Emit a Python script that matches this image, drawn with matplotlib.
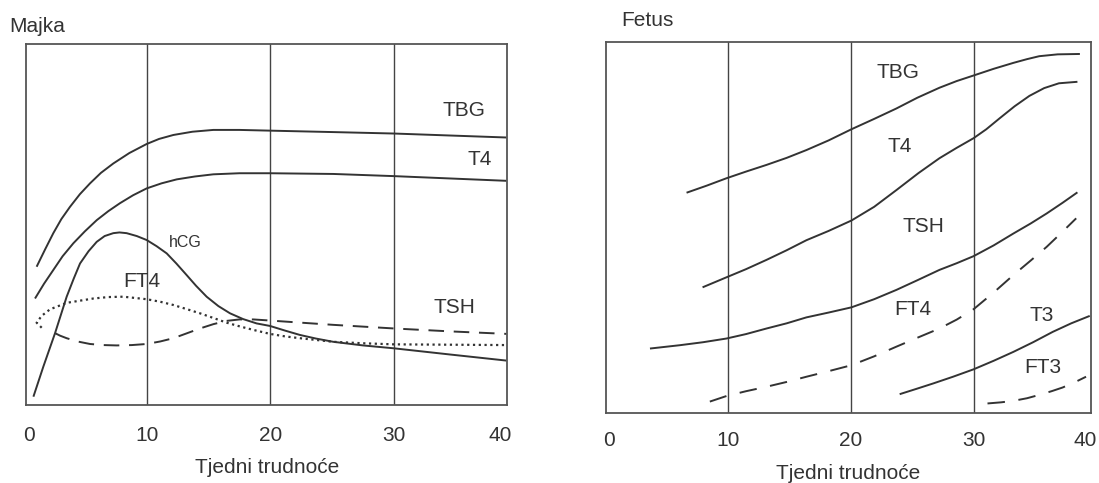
import numpy as np
import matplotlib.pyplot as plt

plt.rcParams['font.family'] = ['Liberation Sans', 'DejaVu Sans']

INK = '#333333'

# --- Majka (mother): week of pregnancy vs relative level (0-100 of the panel)
m_tbg_w = [1.1, 1.8, 2.45, 3.1, 3.8, 4.6, 5.42, 6.3, 7.3, 8.6, 10.0, 11.0, 12.16, 13.7,
           15.39, 17.5, 19.97, 25.1, 30.0, 39.1]
m_tbg_v = [38.3, 43.2, 47.6, 51.5, 54.9, 58.4, 61.4, 64.3, 66.9, 69.8, 72.3, 73.7, 74.8, 75.7,
           76.2, 76.2, 76.0, 75.6, 75.2, 74.1]

m_t4_w = [0.97, 1.7, 2.45, 3.2, 4.07, 5.0, 5.96, 6.9, 7.84, 8.9, 10.0, 11.2, 12.43, 13.9,
          15.39, 17.5, 19.97, 25.1, 30.0, 39.1]
m_t4_v = [29.5, 33.6, 37.4, 41.2, 44.8, 48.1, 51.2, 53.7, 55.9, 58.1, 60.0, 61.4, 62.5, 63.3,
          63.9, 64.2, 64.2, 64.0, 63.4, 62.1]

m_hcg_w = [0.84, 1.64, 2.59, 3.53, 4.1, 4.61, 5.3, 5.96, 6.6, 7.3, 7.8, 8.38, 9.2, 10.0,
           10.8, 11.62, 12.4, 13.23, 14.0, 14.85, 15.8, 16.74, 17.8, 18.89, 19.97, 21.2,
           22.4, 23.7, 25.1, 27.5, 30.0, 34.5, 39.1]
m_hcg_v = [2.3, 10.6, 19.9, 30.0, 35.0, 39.2, 42.6, 45.2, 46.8, 47.6, 47.8, 47.6, 46.8, 45.7,
           44.0, 42.0, 39.2, 36.0, 33.0, 30.0, 27.4, 25.4, 23.8, 22.6, 21.9, 20.6,
           19.4, 18.4, 17.5, 16.5, 15.7, 14.0, 12.3]

m_ft4_w = [1.51, 1.1, 1.51, 2.18, 3.53, 5.69, 6.9, 8.11, 10.0, 11.1, 12.16, 13.2, 14.31, 15.4,
           16.47, 17.5, 18.63, 19.97, 21.2, 22.4, 25.1, 27.5, 30.0, 34.5, 39.1]
m_ft4_v = [21.4, 22.8, 24.7, 26.5, 28.3, 29.5, 29.9, 30.0, 29.3, 28.6, 27.7, 26.6, 25.4, 24.1,
           22.8, 21.8, 20.8, 19.7, 19.0, 18.5, 17.5, 17.1, 16.8, 16.7, 16.6]

m_tsh_w = [2.59, 3.0, 3.53, 4.4, 5.42, 6.5, 7.57, 8.8, 10.0, 11.1, 12.16, 13.2, 14.31, 15.4,
           16.47, 17.5, 18.63, 19.97, 22.5, 25.1, 30.0, 34.5, 39.1]
m_tsh_v = [19.9, 19.2, 18.5, 17.6, 16.9, 16.6, 16.5, 16.6, 16.9, 17.6, 18.5, 19.8, 21.2, 22.4,
           23.3, 23.7, 23.7, 23.4, 22.8, 22.2, 21.2, 20.4, 19.7]

# --- Fetus
f_tbg_w = [6.67, 8.3, 9.91, 11.5, 13.16, 14.8, 16.4, 18.2, 20.05, 21.9, 23.7, 25.4, 27.2,
           28.6, 29.97, 31.6, 33.2, 34.3, 35.3, 36.8, 38.6]
f_tbg_v = [59.3, 61.2, 63.2, 65.0, 66.8, 68.7, 70.8, 73.4, 76.4, 79.2, 82.0, 84.9, 87.6,
           89.4, 90.9, 92.7, 94.3, 95.3, 96.1, 96.6, 96.7]

f_t4_w = [7.97, 9.91, 11.5, 13.16, 14.8, 16.4, 18.2, 20.05, 21.9, 23.7, 25.5, 27.2, 28.6,
          29.97, 31.0, 32.1, 33.3, 34.5, 35.7, 36.9, 38.4]
f_t4_v = [33.8, 36.5, 38.7, 41.2, 43.8, 46.5, 49.0, 51.8, 55.5, 60.0, 64.6, 68.6, 71.4,
          74.0, 76.4, 79.4, 82.6, 85.4, 87.5, 88.8, 89.2]

f_tsh_w = [3.7, 6.13, 8.0, 9.91, 11.5, 13.16, 14.8, 16.4, 18.2, 20.05, 21.9, 23.7, 25.4,
           27.2, 28.6, 29.97, 31.6, 33.2, 34.6, 35.9, 37.2, 38.4]
f_tsh_v = [17.3, 18.2, 19.0, 20.0, 21.2, 22.7, 24.1, 25.7, 27.0, 28.4, 30.6, 33.1, 35.7,
           38.5, 40.3, 42.2, 45.1, 48.3, 51.0, 53.7, 56.6, 59.4]

f_ft4_w = [8.56, 9.91, 11.5, 13.16, 14.8, 16.4, 18.2, 20.05, 21.9, 23.7, 25.4, 27.2, 28.6,
           29.97, 31.6, 33.2, 34.6, 35.9, 37.1, 38.3]
f_ft4_v = [3.0, 4.5, 5.8, 7.0, 8.3, 9.7, 11.2, 12.8, 15.2, 17.8, 20.2, 22.7, 25.1,
           27.9, 32.4, 37.1, 41.0, 44.7, 48.5, 52.4]

f_t3_w = [23.97, 25.3, 26.7, 28.3, 29.97, 31.6, 33.2, 34.8, 36.4, 37.9, 39.4]
f_t3_v = [5.0, 6.4, 7.9, 9.7, 11.7, 14.0, 16.4, 19.0, 21.8, 24.1, 26.1]

f_ft3_w = [31.1, 32.2, 33.2, 34.3, 35.3, 36.3, 37.2, 38.3, 39.1]
f_ft3_v = [2.5, 2.8, 3.2, 3.9, 4.8, 5.8, 6.8, 8.4, 9.7]

week_labels = ['0', '10', '20', '30', '40']
xlabel = 'Tjedni trudnoće'
FS = 15


def setup(ax, xlim, x0, x40, pad, label_y):
    ax.set_xlim(*xlim)
    ax.set_ylim(0, 100)
    ax.set_yticks([])
    ax.set_xticks([x0, 10, 20, 30, x40], week_labels)
    ax.tick_params(axis='x', length=0, pad=pad, labelsize=FS, labelcolor=INK)
    for w in (10, 20, 30):
        ax.axvline(w, color='#444444', lw=1.0, zorder=1)
    for s in ax.spines.values():
        s.set_color('#555555')
        s.set_linewidth(1.3)
    ax.set_xlabel(xlabel, fontsize=FS, color=INK)
    ax.xaxis.label.set_verticalalignment('center')
    ax.xaxis.set_label_coords(0.5, label_y)


fig = plt.figure(figsize=(10.99, 4.83), dpi=100)
ax1 = fig.add_axes([0.0241, 0.1615, 0.4372, 0.7474])
ax2 = fig.add_axes([0.5514, 0.1455, 0.4413, 0.7681])

solid = dict(color=INK, lw=1.4, solid_capstyle='butt')
dashed = dict(color=INK, lw=1.4, linestyle=(0, (8, 5)))
dotted = dict(color=INK, lw=1.6, linestyle=(0, (1, 1.6)))
dashed_f = dict(color=INK, lw=1.4, linestyle=(0, (9, 7)))

# Majka
ax1.plot(m_tbg_w, m_tbg_v, **solid)
ax1.plot(m_t4_w, m_t4_v, **solid)
ax1.plot(m_hcg_w, m_hcg_v, **solid)
ax1.plot(m_ft4_w, m_ft4_v, **dotted)
ax1.plot(m_tsh_w, m_tsh_v, **dashed)
ax1.text(35.7, 81.7, 'TBG', fontsize=FS, color=INK, ha='center', va='center')
ax1.text(36.96, 67.9, 'T4', fontsize=FS, color=INK, ha='center', va='center')
ax1.text(13.1, 44.9, 'hCG', fontsize=11.5, color=INK, ha='center', va='center')
ax1.text(9.62, 34.1, 'FT4', fontsize=FS, color=INK, ha='center', va='center')
ax1.text(34.9, 26.9, 'TSH', fontsize=FS, color=INK, ha='center', va='center')
setup(ax1, (0.28, 39.14), 0.49, 38.6, 15, -0.172)

# Fetus
ax2.plot(f_tbg_w, f_tbg_v, **solid)
ax2.plot(f_t4_w, f_t4_v, **solid)
ax2.plot(f_tsh_w, f_tsh_v, **solid)
ax2.plot(f_ft4_w, f_ft4_v, **dashed_f)
ax2.plot(f_t3_w, f_t3_v, **solid)
ax2.plot(f_ft3_w, f_ft3_v, **dashed_f)
ax2.text(23.8, 91.6, 'TBG', fontsize=FS, color=INK, ha='center', va='center')
ax2.text(23.97, 71.7, 'T4', fontsize=FS, color=INK, ha='center', va='center')
ax2.text(25.9, 50.3, 'TSH', fontsize=FS, color=INK, ha='center', va='center')
ax2.text(25.05, 27.7, 'FT4', fontsize=FS, color=INK, ha='center', va='center')
ax2.text(35.5, 26.1, 'T3', fontsize=FS, color=INK, ha='center', va='center')
ax2.text(35.6, 12.2, 'FT3', fontsize=FS, color=INK, ha='center', va='center')
setup(ax2, (0.13, 39.5), 0.37, 39.0, 13, -0.165)

fig.text(0.034, 0.946, 'Majka', fontsize=FS, color=INK, ha='center', va='center')
fig.text(0.589, 0.957, 'Fetus', fontsize=FS, color=INK, ha='center', va='center')

fig.savefig('out.png', dpi=100)
